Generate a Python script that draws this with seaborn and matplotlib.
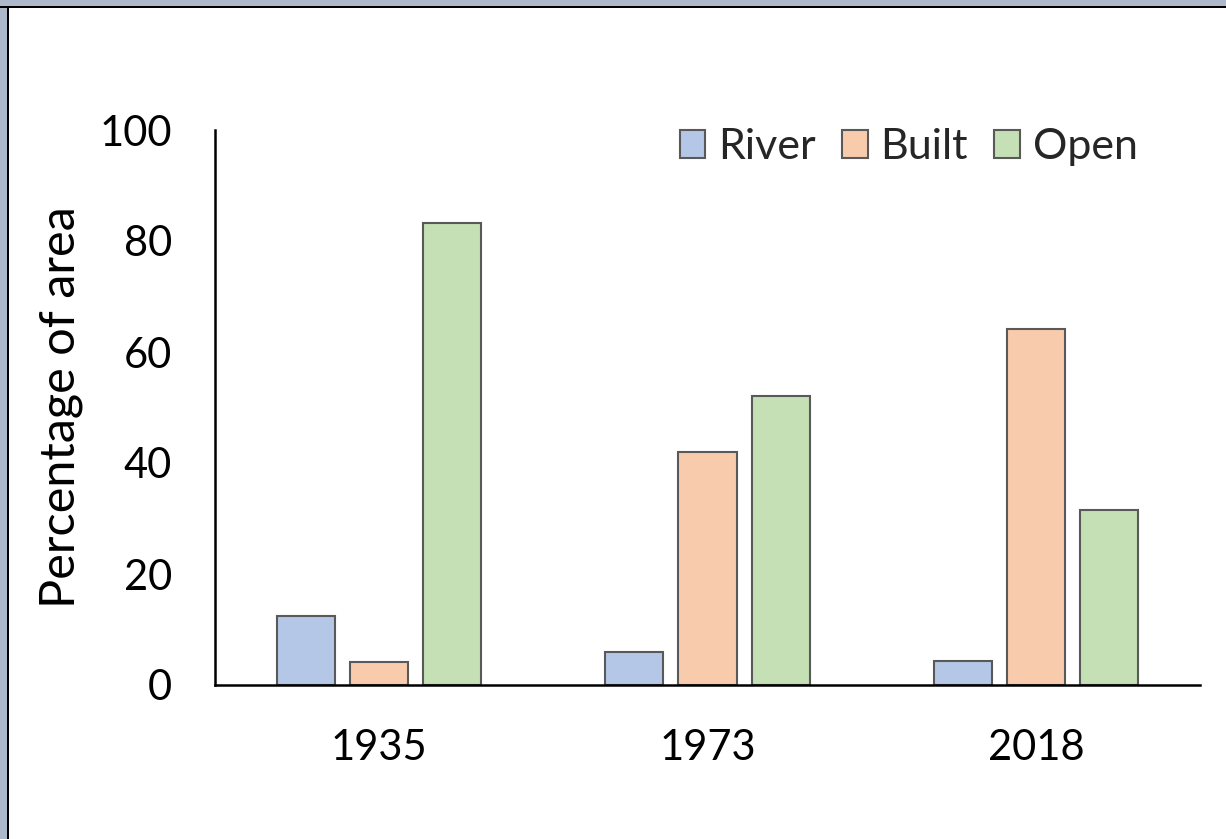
import matplotlib
matplotlib.use("Agg")
import matplotlib.pyplot as plt
from matplotlib.patches import Rectangle
import seaborn as sns
import pandas as pd

# values
years = ["1935", "1973", "2018"]
classes = ["River", "Built", "Open"]
river = [12.4, 5.9, 4.3]
built = [4.1, 42.0, 64.1]
opened = [83.2, 52.1, 31.5]
colors = ["#B4C7E7", "#F8CBAD", "#C5E0B4"]

df = pd.DataFrame({
    "Year": years * 3,
    "Class": [c for c in classes for _ in years],
    "Value": river + built + opened,
})

sns.set_theme(style="white")
plt.rcParams["font.family"] = ["Lato", "DejaVu Sans"]

fig = plt.figure(figsize=(12.26, 8.39), dpi=100)
ax = fig.add_axes([215 / 1226, 1 - 685 / 839, 985 / 1226, 555 / 839])

sns.barplot(
    data=df, x="Year", y="Value", hue="Class", order=years, hue_order=classes,
    palette=colors, width=0.668, gap=0.205, edgecolor="#595959", linewidth=1.5,
    saturation=1, ax=ax,
)

ax.set_xlim(-0.5, 2.5)
ax.set_ylim(0, 100)
ax.set_yticks([0, 20, 40, 60, 80, 100])
ax.tick_params(axis="both", length=0, labelsize=30, colors="black")
ax.tick_params(axis="x", pad=32)
ax.tick_params(axis="y", pad=31)
ax.set_xlabel("")
ax.set_ylabel("Percentage of area", fontsize=35, color="black", labelpad=12)
for side in ["top", "right"]:
    ax.spines[side].set_visible(False)
for side in ["left", "bottom"]:
    ax.spines[side].set_color("black")
    ax.spines[side].set_linewidth(1.8)

ax.legend(
    loc="upper right", bbox_to_anchor=(0.976, 1.073), ncol=3, frameon=False,
    fontsize=31, handlelength=0.6, handleheight=0.6, handletextpad=0.3,
    columnspacing=0.6,
)

# window-style frame at top and left edge
fig.patches.append(Rectangle((0, 1 - 6 / 839), 1, 6 / 839, transform=fig.transFigure,
                             facecolor="#ADB9CA", edgecolor="none"))
fig.patches.append(Rectangle((0, 0), 7 / 1226, 1, transform=fig.transFigure,
                             facecolor="#ADB9CA", edgecolor="none"))
fig.patches.append(Rectangle((0, 1 - 8 / 839), 1, 2 / 839, transform=fig.transFigure,
                             facecolor="black", edgecolor="none"))
fig.patches.append(Rectangle((7 / 1226, 0), 2 / 1226, 1 - 6 / 839, transform=fig.transFigure,
                             facecolor="black", edgecolor="none"))

fig.savefig("out.png", dpi=100)
